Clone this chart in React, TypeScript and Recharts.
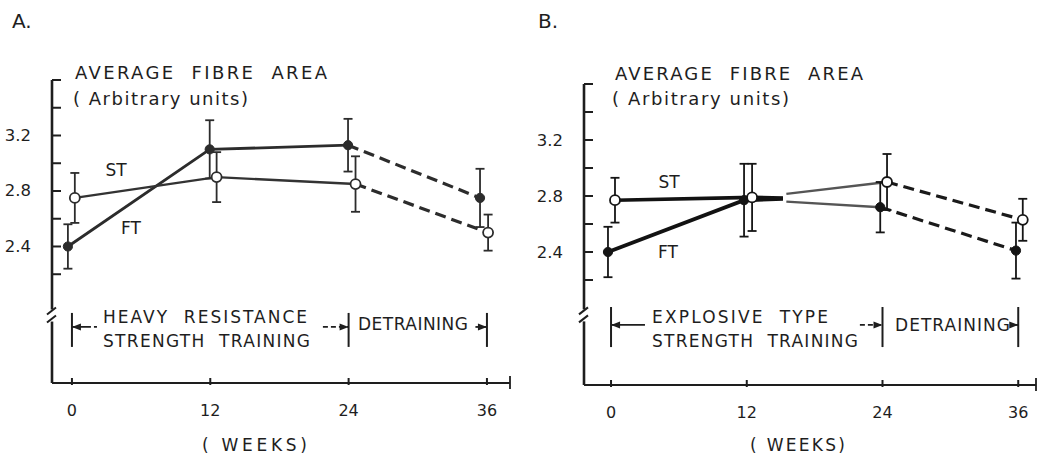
import React from "react";
import {
  ComposedChart,
  Line,
  Scatter,
  XAxis,
  YAxis,
  ErrorBar,
  ReferenceLine,
  ReferenceDot,
} from "recharts";

const WEEK_TICKS = [0, 12, 24, 36];
const Y_TICKS = [2.2, 2.4, 2.6, 2.8, 3.0, 3.2, 3.4, 3.6];
const Y_TICK_LABELS = [2.4, 2.8, 3.2];

// A. heavy resistance strength training
const ftWeeksA = [-0.35, 11.95, 23.95, 35.4];
const ftMeanA = [2.4, 3.1, 3.13, 2.75];
const ftSdA = [0.16, 0.21, 0.19, 0.21];
const stWeeksA = [0.25, 12.55, 24.6, 36.1];
const stMeanA = [2.75, 2.9, 2.85, 2.5];
const stSdA = [0.18, 0.18, 0.2, 0.13];

// B. explosive type strength training
const ftWeeksB = [-0.27, 11.76, 23.8, 35.8];
const ftMeanB = [2.4, 2.77, 2.72, 2.41];
const ftSdB = [0.18, 0.26, 0.18, 0.2];
const stWeeksB = [0.35, 12.47, 24.4, 36.4];
const stMeanB = [2.77, 2.79, 2.9, 2.63];
const stSdB = [0.16, 0.24, 0.2, 0.15];
// the two B lines pinch together just after 12 weeks
const pinchWeeksB = [15.2, 15.5];
const ftPinchB = [2.78, 2.76];
const stPinchB = [2.785, 2.815];

const INK = "#1e1e1e";
const FONT = "'DejaVu Sans', sans-serif";

type Pt = { x: number; y: number; e?: number };
const pts = (w: number[], m: number[], e?: number[]): Pt[] =>
  w.map((x, i) => ({ x, y: m[i], e: e ? e[i] : undefined }));

type Seg = { data: Pt[]; color: string; width: number; dash?: boolean };

type Panel = {
  left: number;
  width: number;
  margin: { top: number; right: number; bottom: number; left: number };
  xDomain: [number, number];
  yDomain: [number, number];
  ft: Pt[];
  st: Pt[];
  segs: Seg[];
  markTop: number;
  markBottom: number;
  arrowY: number;
  breakY: number;
  leadEnd: number;
  leadDashed: boolean;
  trailStart: number;
  detStart: number;
  ink: string;
};

const segsA: Seg[] = [
  { data: pts(ftWeeksA.slice(0, 3), ftMeanA.slice(0, 3)), color: "#2c2c2c", width: 2.8 },
  { data: pts(ftWeeksA.slice(2), ftMeanA.slice(2)), color: "#2c2c2c", width: 3.2, dash: true },
  { data: pts(stWeeksA.slice(0, 3), stMeanA.slice(0, 3)), color: "#333", width: 2.4 },
  { data: pts(stWeeksA.slice(2), stMeanA.slice(2)), color: "#2c2c2c", width: 3.2, dash: true },
];

const segsB: Seg[] = [
  {
    data: pts([...ftWeeksB.slice(0, 2), pinchWeeksB[0]], [...ftMeanB.slice(0, 2), ftPinchB[0]]),
    color: "#121212",
    width: 4,
  },
  {
    data: pts([pinchWeeksB[1], ftWeeksB[2]], [ftPinchB[1], ftMeanB[2]]),
    color: "#555",
    width: 2.4,
  },
  { data: pts(ftWeeksB.slice(2), ftMeanB.slice(2)), color: "#1a1a1a", width: 3.2, dash: true },
  {
    data: pts([...stWeeksB.slice(0, 2), pinchWeeksB[0]], [...stMeanB.slice(0, 2), stPinchB[0]]),
    color: "#121212",
    width: 3.6,
  },
  {
    data: pts([pinchWeeksB[1], stWeeksB[2]], [stPinchB[1], stMeanB[2]]),
    color: "#555",
    width: 2.4,
  },
  { data: pts(stWeeksB.slice(2), stMeanB.slice(2)), color: "#1a1a1a", width: 3.2, dash: true },
];

const panelA: Panel = {
  left: 0,
  width: 520,
  margin: { top: 80, right: 10, bottom: 37, left: 12 },
  xDomain: [-1.73, 38.0],
  yDomain: [1.416, 3.6],
  ft: pts(ftWeeksA, ftMeanA, ftSdA),
  st: pts(stWeeksA, stMeanA, stSdA),
  segs: segsA,
  markTop: 1.921,
  markBottom: 1.676,
  arrowY: 1.82,
  breakY: 1.895,
  leadEnd: 2.17,
  leadDashed: true,
  trailStart: 21.77,
  detStart: 35.0,
  ink: "#2c2c2c",
};

const panelB: Panel = {
  left: 520,
  width: 531,
  margin: { top: 84, right: 15, bottom: 35, left: 24 },
  xDomain: [-2.39, 37.57],
  yDomain: [1.45, 3.6],
  ft: pts(ftWeeksB, ftMeanB, ftSdB),
  st: pts(stWeeksB, stMeanB, stSdB),
  segs: segsB,
  markTop: 2.007,
  markBottom: 1.721,
  arrowY: 1.879,
  breakY: 1.94,
  leadEnd: 3.0,
  leadDashed: false,
  trailStart: 22.0,
  detStart: 35.4,
  ink: "#151515",
};

function XTick(props: any) {
  const { x, y, payload } = props;
  const labelled = WEEK_TICKS.includes(payload.value);
  return (
    <g>
      {labelled ? (
        <line x1={x} x2={x} y1={y - 5} y2={y + 2} stroke={INK} strokeWidth={2} />
      ) : (
        <line x1={x} x2={x} y1={y - 7} y2={y + 6} stroke={INK} strokeWidth={1.8} />
      )}
      {labelled && (
        <text
          x={x}
          y={y + 27}
          textAnchor="middle"
          dominantBaseline="central"
          fontFamily={FONT}
          fontSize={16}
          fill={INK}
        >
          {payload.value}
        </text>
      )}
    </g>
  );
}

function YTick(props: any) {
  const { x, y, payload } = props;
  const labelled = Y_TICK_LABELS.some((v) => Math.abs(v - payload.value) < 1e-6);
  return (
    <g>
      <line x1={x} x2={x + 9} y1={y} y2={y} stroke={INK} strokeWidth={2} />
      {labelled && (
        <text
          x={x - 21}
          y={y}
          textAnchor="end"
          dominantBaseline="central"
          fontFamily={FONT}
          fontSize={16.5}
          fill={INK}
        >
          {payload.value.toFixed(1)}
        </text>
      )}
    </g>
  );
}

const filledDot = (color: string) => (p: any) => (
  <circle cx={p.cx} cy={p.cy} r={4.6} fill={color} stroke={color} strokeWidth={1} />
);
const openDot = (color: string) => (p: any) => (
  <circle cx={p.cx} cy={p.cy} r={5} fill="#fff" stroke={color} strokeWidth={1.8} />
);

const breakMark = (p: any) => (
  <g>
    <rect x={p.cx - 6} y={p.cy - 7} width={12} height={12} fill="#fff" />
    <line x1={p.cx - 5} y1={p.cy - 2} x2={p.cx + 4} y2={p.cy - 9} stroke={INK} strokeWidth={2} />
    <line x1={p.cx - 5} y1={p.cy + 6} x2={p.cx + 4} y2={p.cy - 1} stroke={INK} strokeWidth={2} />
  </g>
);

const arrowLeft = (p: any) => (
  <path d={`M${p.cx},${p.cy} L${p.cx + 9},${p.cy - 3.5} L${p.cx + 9},${p.cy + 3.5} Z`} fill={INK} />
);
const arrowRight = (p: any) => (
  <path d={`M${p.cx},${p.cy} L${p.cx - 9},${p.cy - 3.5} L${p.cx - 9},${p.cy + 3.5} Z`} fill={INK} />
);

function Chart({ cfg }: { cfg: Panel }) {
  const [x0] = cfg.xDomain;
  return (
    <div style={{ position: "absolute", left: cfg.left, top: 0 }}>
      <ComposedChart width={cfg.width} height={460} margin={cfg.margin}>
        <XAxis
          type="number"
          dataKey="x"
          domain={cfg.xDomain}
          allowDataOverflow
          ticks={[...WEEK_TICKS, cfg.xDomain[1]]}
          interval={0}
          tickLine={false}
          tickSize={0}
          tickMargin={0}
          tick={<XTick />}
          axisLine={{ stroke: INK, strokeWidth: 2 }}
          height={40}
        />
        <YAxis
          type="number"
          dataKey="y"
          domain={cfg.yDomain}
          allowDataOverflow
          ticks={Y_TICKS}
          interval={0}
          tickLine={false}
          tickSize={0}
          tickMargin={0}
          tick={<YTick />}
          axisLine={{ stroke: INK, strokeWidth: 2.6 }}
          width={40}
        />

        {cfg.segs.map((s, i) => (
          <Line
            key={i}
            data={s.data}
            dataKey="y"
            type="linear"
            stroke={s.color}
            strokeWidth={s.width}
            strokeDasharray={s.dash ? "11 6" : undefined}
            dot={false}
            activeDot={false}
            isAnimationActive={false}
          />
        ))}

        <Scatter data={cfg.ft} shape={filledDot(cfg.ink)} isAnimationActive={false}>
          <ErrorBar dataKey="e" direction="y" width={4.5} stroke={cfg.ink} strokeWidth={1.8} />
        </Scatter>
        <Scatter data={cfg.st} shape={openDot(cfg.ink)} isAnimationActive={false}>
          <ErrorBar dataKey="e" direction="y" width={4.5} stroke={cfg.ink} strokeWidth={1.8} />
        </Scatter>

        {/* period brackets under the curves */}
        {[0, 24, 36].map((w) => (
          <ReferenceLine
            key={w}
            segment={[
              { x: w, y: cfg.markTop },
              { x: w, y: cfg.markBottom },
            ]}
            stroke={INK}
            strokeWidth={2}
          />
        ))}
        <ReferenceLine
          segment={[
            { x: 0, y: cfg.arrowY },
            { x: cfg.leadEnd, y: cfg.arrowY },
          ]}
          stroke={INK}
          strokeWidth={1.8}
          strokeDasharray={cfg.leadDashed ? "1 0 4 3 6 0" : undefined}
        />
        <ReferenceLine
          segment={[
            { x: cfg.trailStart, y: cfg.arrowY },
            { x: 24, y: cfg.arrowY },
          ]}
          stroke={INK}
          strokeWidth={1.8}
          strokeDasharray="5 3"
        />
        <ReferenceLine
          segment={[
            { x: cfg.detStart, y: cfg.arrowY },
            { x: 36, y: cfg.arrowY },
          ]}
          stroke={INK}
          strokeWidth={1.8}
        />
        <ReferenceDot x={0} y={cfg.arrowY} r={0} shape={arrowLeft} />
        <ReferenceDot x={24} y={cfg.arrowY} r={0} shape={arrowRight} />
        <ReferenceDot x={36} y={cfg.arrowY} r={0} shape={arrowRight} />
        <ReferenceDot x={x0} y={cfg.breakY} r={0} shape={breakMark} ifOverflow="visible" />
      </ComposedChart>
    </div>
  );
}

type Label = { t: string; x: number; y: number; len?: number; size?: number; anchor?: "start" | "middle" };

const labels: Label[] = [
  { t: "A.", x: 12, y: 21, size: 20 },
  { t: "AVERAGE  FIBRE  AREA", x: 75, y: 72, len: 252, size: 18 },
  { t: "( Arbitrary units)", x: 73, y: 98, len: 175, size: 18 },
  { t: "ST", x: 116, y: 170, size: 17, anchor: "middle" },
  { t: "FT", x: 131, y: 228, size: 17, anchor: "middle" },
  { t: "HEAVY  RESISTANCE", x: 103, y: 317, len: 204, size: 17 },
  { t: "STRENGTH  TRAINING", x: 103, y: 341, len: 207, size: 17 },
  { t: "DETRAINING", x: 358, y: 324, len: 110, size: 17 },
  { t: "( WEEKS)", x: 202, y: 445, len: 105, size: 17 },

  { t: "B.", x: 538, y: 21, size: 20 },
  { t: "AVERAGE  FIBRE  AREA", x: 615, y: 73, len: 248, size: 18 },
  { t: "( Arbitrary units)", x: 612, y: 98, len: 177, size: 18 },
  { t: "ST", x: 669, y: 182, size: 17, anchor: "middle" },
  { t: "FT", x: 668, y: 252, size: 17, anchor: "middle" },
  { t: "EXPLOSIVE  TYPE", x: 652, y: 317, len: 176, size: 17 },
  { t: "STRENGTH  TRAINING", x: 652, y: 341, len: 206, size: 17 },
  { t: "DETRAINING", x: 895, y: 325, len: 115, size: 17 },
  { t: "( WEEKS)", x: 750, y: 445, len: 95, size: 17 },
];

export default function App() {
  return (
    <div
      style={{
        position: "absolute",
        left: 0,
        top: 0,
        width: 1051,
        height: 460,
        background: "#fff",
        overflow: "hidden",
      }}
    >
      <Chart cfg={panelA} />
      <Chart cfg={panelB} />
      <svg
        width={1051}
        height={460}
        style={{ position: "absolute", left: 0, top: 0, pointerEvents: "none" }}
      >
        {labels.map((l, i) => (
          <text
            key={i}
            x={l.x}
            y={l.y}
            textAnchor={l.anchor ?? "start"}
            dominantBaseline="central"
            fontFamily={FONT}
            fontSize={l.size ?? 16}
            fill={INK}
            textLength={l.len}
            lengthAdjust={l.len ? "spacing" : undefined}
            style={{ whiteSpace: "pre" }}
          >
            {l.t}
          </text>
        ))}
      </svg>
    </div>
  );
}
